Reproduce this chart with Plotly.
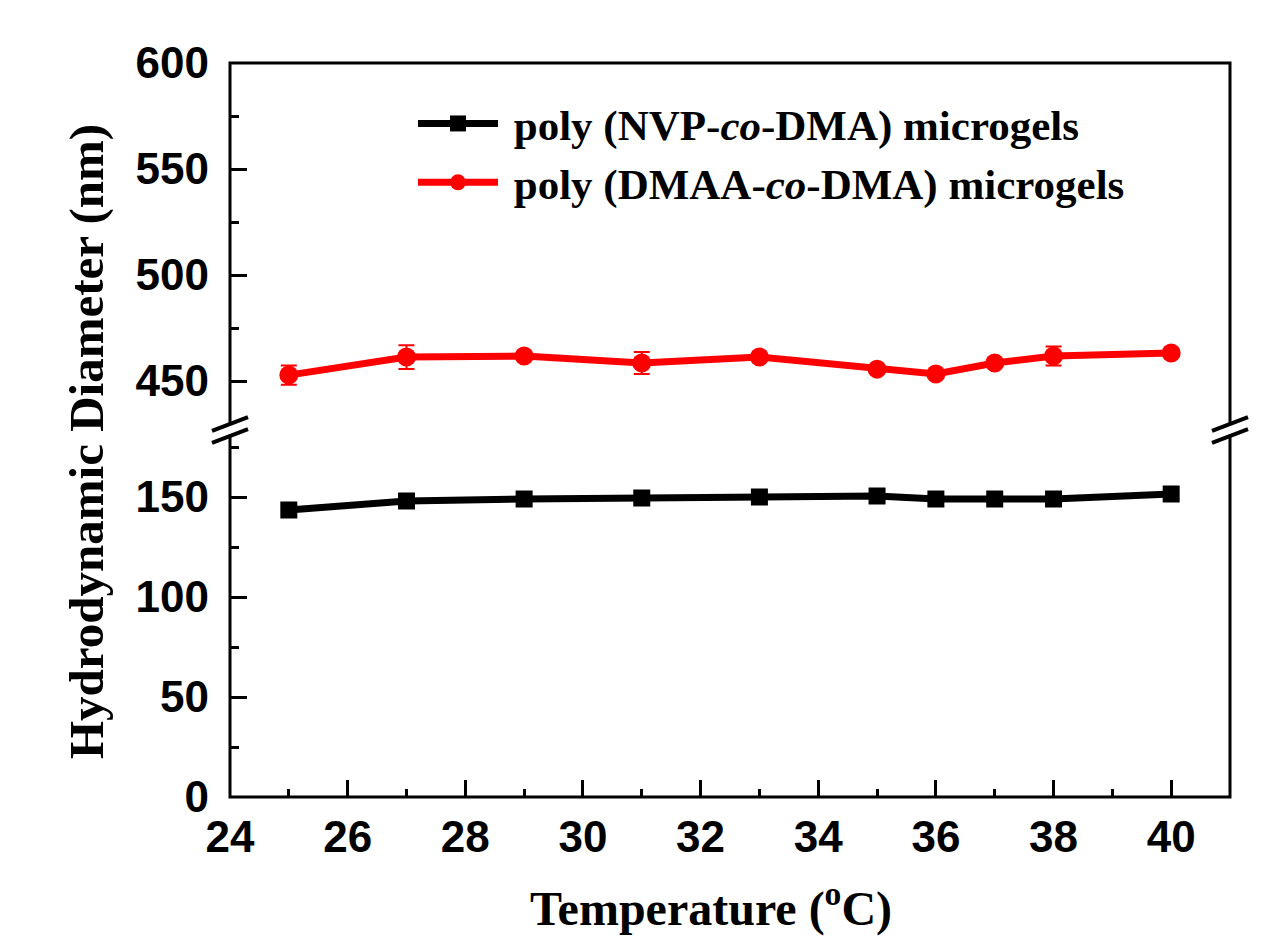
import plotly.graph_objects as go

temperature = [25, 27, 29, 31, 33, 35, 36, 37, 38, 40]
nvp_diameter = [143.5, 148, 149, 149.5, 150, 150.5, 149, 149, 149, 151.5]
dmaa_diameter = [452.8, 461.3, 461.8, 458.5, 461.3, 455.6, 453.3, 458.5, 461.8, 463.2]
dmaa_error = [4.5, 5.6, 1.5, 5.2, 1.5, 1.5, 1.5, 1.5, 4.5, 1.5]

x_ticks = [24, 26, 28, 30, 32, 34, 36, 38, 40]
y_low_ticks = [0, 50, 100, 150]
y_high_ticks = [450, 500, 550, 600]

# page body adds an 8px offset; figure coords = screen coords - 8
OFF = 8
W, H = 1273 - OFF, 938 - OFF
LEFT, RIGHT, TOP, BOTTOM = 230 - OFF, 1230 - OFF, 63 - OFF, 797 - OFF
PW, PH = RIGHT - LEFT, BOTTOM - TOP

tick_font = dict(family="Liberation Sans, Arial", size=44, color="black", weight="bold")
serif = "Liberation Serif, Times New Roman"

fig = go.Figure()
fig.add_trace(go.Scatter(
    x=temperature, y=nvp_diameter, mode="lines+markers",
    name="\u00a0poly (NVP-<i>co</i>-DMA) microgels",
    line=dict(color="black", width=7),
    marker=dict(symbol="square", size=17, color="black"),
    xaxis="x", yaxis="y",
))
fig.add_trace(go.Scatter(
    x=temperature, y=dmaa_diameter, mode="lines+markers",
    name="\u00a0poly (DMAA-<i>co</i>-DMA) microgels",
    line=dict(color="#ff0000", width=7),
    marker=dict(symbol="circle", size=19, color="#ff0000"),
    error_y=dict(type="data", array=dmaa_error, color="#ff0000", thickness=2, width=8),
    xaxis="x", yaxis="y2",
))

axis_common = dict(
    showgrid=False, zeroline=False, showline=False,
    ticks="inside", ticklen=17, tickwidth=3, tickcolor="black",
    tickfont=tick_font,
)

fig.update_layout(
    width=W, height=H,
    margin=dict(l=LEFT, r=W - RIGHT, t=TOP, b=H - BOTTOM),
    plot_bgcolor="white", paper_bgcolor="white",
    showlegend=True,
    legend=dict(
        x=(420 - OFF - 7 - LEFT) / PW, y=1 - (126 - OFF - 37 - TOP) / PH,
        xanchor="left", yanchor="top",
        bgcolor="rgba(0,0,0,0)", borderwidth=0,
        font=dict(family=serif, size=43, color="black", weight="bold"),
        itemwidth=80, tracegroupgap=0,
    ),
    xaxis=dict(
        **axis_common, range=[24, 41], tickvals=x_ticks, anchor="y",
        ticklabelstandoff=10,
        minor=dict(ticks="inside", ticklen=8, tickwidth=3, tickcolor="black", dtick=1, tick0=24),
    ),
    yaxis=dict(
        **axis_common, range=[0, 183.5], domain=[0, 0.5], tickvals=y_low_ticks, anchor="x",
        ticklabelstandoff=20,
        minor=dict(ticks="inside", ticklen=9, tickwidth=3, tickcolor="black", dtick=25, tick0=0),
    ),
    yaxis2=dict(
        **axis_common, range=[426.9, 600], domain=[0.5, 1], tickvals=y_high_ticks, anchor="x",
        ticklabelstandoff=20,
        minor=dict(ticks="inside", ticklen=9, tickwidth=3, tickcolor="black", dtick=25, tick0=0),
    ),
)

# Axis titles
fig.add_annotation(
    text="Hydrodynamic Diameter (nm)", xref="paper", yref="paper",
    x=(86 - OFF - LEFT) / PW, y=(BOTTOM - (442 - OFF)) / PH, textangle=-90, showarrow=False,
    font=dict(family=serif, size=49, color="black", weight="bold"),
    xanchor="center", yanchor="middle",
)
fig.add_annotation(
    text="Temperature (<sup>o</sup>C)", xref="paper", yref="paper",
    x=(711 - OFF - LEFT) / PW, y=(BOTTOM - (905 - OFF)) / PH, showarrow=False,
    font=dict(family=serif, size=48, color="black", weight="bold"),
    xanchor="center", yanchor="middle",
)

# Frame
fig.add_shape(type="rect", xref="paper", yref="paper", x0=0, x1=1, y0=0, y1=1,
              line=dict(color="black", width=3), layer="above")

# Axis break marks
def px(dx, base):
    return base + dx / PW

def py(up):
    return 0.5 + up / PH

for base in (0.0, 1.0):
    pts = [(-7, 6 - 2.7), (7, 6 + 2.7), (7, -6 + 2.7), (-7, -6 - 2.7)]
    path = "M " + " L ".join(f"{px(a, base)},{py(b)}" for a, b in pts) + " Z"
    fig.add_shape(type="path", xref="paper", yref="paper", path=path,
                  fillcolor="white", line=dict(color="white", width=1), layer="above")
    for c in (6, -6):
        fig.add_shape(type="line", xref="paper", yref="paper",
                      x0=px(-18, base), y0=py(c - 6.8), x1=px(18, base), y1=py(c + 6.8),
                      line=dict(color="black", width=4), layer="above")

fig.write_html("out.html")
